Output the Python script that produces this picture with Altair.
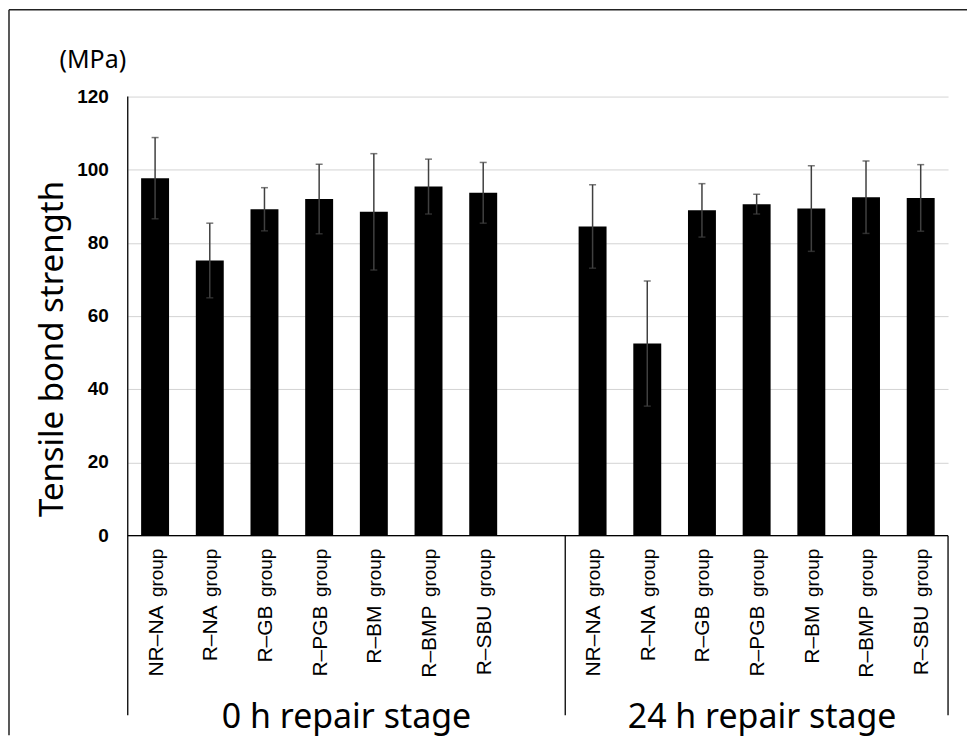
import altair as alt
import pandas as pd

# ---- data ----
stages = ["0 h repair stage", "24 h repair stage"]
groups = ["NR–NA", "R–NA", "R–GB", "R–PGB", "R–BM", "R–BMP", "R–SBU"]
mean_0h = [97.7, 75.2, 89.2, 92.0, 88.5, 95.4, 93.7]
sd_0h = [11.1, 10.2, 5.9, 9.5, 15.9, 7.5, 8.3]
mean_24h = [84.5, 52.5, 88.9, 90.6, 89.4, 92.5, 92.3]
sd_24h = [11.4, 17.1, 7.3, 2.7, 11.7, 9.9, 9.1]
y_ticks = [0, 20, 40, 60, 80, 100, 120]
y_unit = "(MPa)"
y_title = "Tensile bond strength"
suffix = "group"

# category slots: 7 bars, one empty slot, 7 bars
slot_start = [0, 8]
slot_total = 15

rows = []
for s, (stage, means, sds) in enumerate([(stages[0], mean_0h, sd_0h), (stages[1], mean_24h, sd_24h)]):
    for i, g in enumerate(groups):
        rows.append({
            "stage": stage, "group": g, "suffix": suffix,
            "pos": slot_start[s] + i + 0.5,
            "mean": means[i], "lo": means[i] - sds[i], "hi": means[i] + sds[i],
        })
df = pd.DataFrame(rows)

dividers = pd.DataFrame({"b": [0, 8, 15], "top": [120, 0, 0]})
baseline_df = pd.DataFrame({"x0": [0], "x1": [slot_total], "y0": [0]})
titles = pd.DataFrame({"stage": stages, "c": [4.0, 11.6]})
ytick_df = pd.DataFrame({"v": y_ticks, "lab": [str(v) for v in y_ticks]})

W, H = 822, 440
xs = alt.Scale(domain=[0, slot_total], nice=False, zero=False, padding=0)
ys = alt.Scale(domain=[0, 120], nice=False, padding=0)

YAX = alt.Axis(values=y_ticks, domain=False, ticks=False, labels=False,
               grid=True, gridColor="#d4d4d4", gridWidth=1)


def Y(field):
    return alt.Y(field, scale=ys, title=None, axis=YAX)


X = alt.X("pos:Q", scale=xs, axis=None)

base = alt.Chart(df)

bars = base.mark_bar(color="black", width=28).encode(x=X, y=Y("mean:Q"))

err = base.mark_rule(color="#404040", strokeWidth=1.5).encode(
    x=X, y=Y("lo:Q"), y2="hi:Q")
cap_lo = base.mark_tick(orient="horizontal", color="#404040", size=7, thickness=1.5).encode(
    x=X, y=Y("lo:Q"))
cap_hi = base.mark_tick(orient="horizontal", color="#404040", size=7, thickness=1.5).encode(
    x=X, y=Y("hi:Q"))

ylabels = alt.Chart(ytick_df).mark_text(align="right", baseline="middle", dx=-19,
                                        font="Liberation Sans", fontSize=19, fontWeight="bold",
                                        color="black").encode(
    x=alt.value(0), y=Y("v:Q"), text="lab:N")

lab_suffix = base.mark_text(angle=270, align="right", baseline="alphabetic", dy=7.5,
                            font="Liberation Sans", fontSize=19, color="black").encode(
    x=X, y=alt.value(453), text="suffix:N")
lab_prefix = base.mark_text(angle=270, align="right", baseline="alphabetic", dy=7.5, dx=-57,
                            font="Liberation Sans", fontSize=21, color="black").encode(
    x=X, y=alt.value(453), text="group:N")

xline = alt.Chart(baseline_df).mark_rule(color="black", strokeWidth=1.3).encode(
    x=alt.X("x0:Q", scale=xs, axis=None), x2="x1:Q", y=Y("y0:Q"))

divs = alt.Chart(dividers).mark_rule(color="black", strokeWidth=1.3).encode(
    x=alt.X("b:Q", scale=xs, axis=None), y=Y("top:Q"), y2=alt.value(620))

stage_titles = alt.Chart(titles).mark_text(font="Noto Sans", fontSize=34, color="black",
                                           baseline="alphabetic", align="center").encode(
    x=alt.X("c:Q", scale=xs, axis=None), y=alt.value(633), text="stage:N")

unit = alt.Chart(pd.DataFrame({"t": [y_unit]})).mark_text(
    font="Noto Sans", fontSize=25, color="black", align="center", baseline="middle").encode(
    x=alt.value(-35), y=alt.value(-37), text="t:N")

ytitle = alt.Chart(pd.DataFrame({"t": [y_title]})).mark_text(
    font="Noto Sans", fontSize=33, color="black", align="center", baseline="middle", angle=270).encode(
    x=alt.value(-75), y=alt.value(253), text="t:N")

frame_df = pd.DataFrame({"t": ["frame"]})
frame_left = alt.Chart(frame_df).mark_rule(color="#222222", strokeWidth=1.5).encode(
    x=alt.value(-119), y=alt.value(-87), y2=alt.value(640), detail="t:N")
frame_top = alt.Chart(frame_df).mark_rule(color="#222222", strokeWidth=1.5).encode(
    x=alt.value(-119), x2=alt.value(841), y=alt.value(-87), detail="t:N")

chart = alt.layer(
    bars, err, cap_lo, cap_hi, xline, divs, ylabels, lab_suffix, lab_prefix,
    stage_titles, unit, ytitle, frame_left, frame_top
).properties(width=W, height=H, padding=0).configure_view(stroke=None)

chart.save("out.html", embed_options={"renderer": "svg", "actions": False})
